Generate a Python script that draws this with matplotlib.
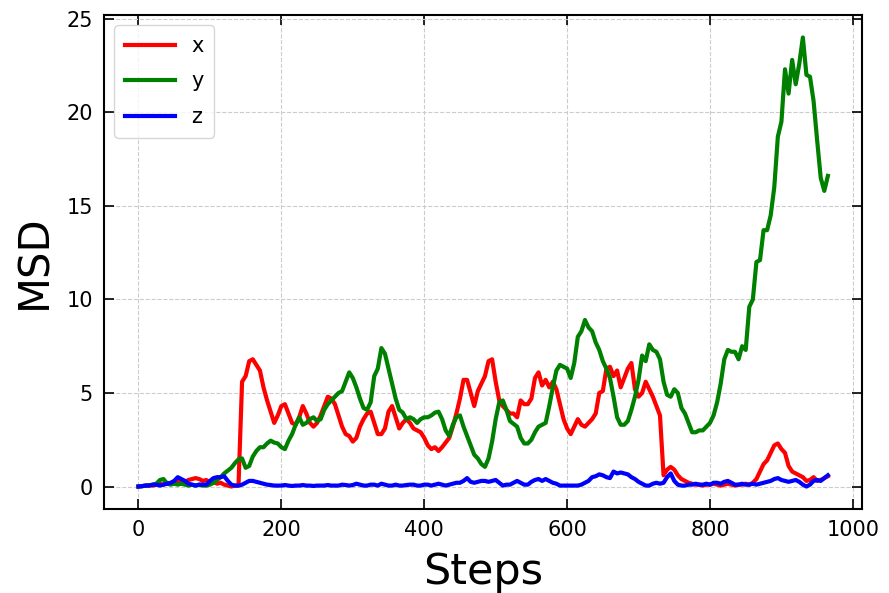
import numpy as np
import matplotlib
matplotlib.use("Agg")
import matplotlib.pyplot as plt

# Simulation steps (sampled every 5 steps)
steps = np.arange(0, 966, 5)

# Mean squared displacement along each axis
msd_x = [
    0.0, 0.02, 0.05, 0.08, 0.05, 0.1, 0.15, 0.1, 0.2, 0.15,
    0.25, 0.3, 0.2, 0.25, 0.35, 0.4, 0.45, 0.4, 0.3, 0.35,
    0.2, 0.25, 0.15, 0.2, 0.1, 0.05, 0.0, 0.05, 0.05, 5.6,
    5.9, 6.7, 6.8, 6.5, 6.2, 5.3, 4.6, 4.0, 3.4, 3.8,
    4.3, 4.4, 3.9, 3.4, 3.3, 3.7, 4.3, 3.9, 3.4, 3.2,
    3.4, 3.8, 4.3, 4.8, 4.7, 4.4, 3.8, 3.2, 2.8, 2.7,
    2.4, 2.6, 3.2, 3.6, 3.9, 4.0, 3.4, 2.8, 2.8, 3.1,
    4.0, 4.3, 3.7, 3.1, 3.4, 3.6, 3.4, 3.1, 3.0, 2.9,
    2.6, 2.2, 2.0, 2.1, 1.9, 2.1, 2.35, 2.6, 3.2, 3.9,
    4.7, 5.7, 5.7, 5.0, 4.3, 5.1, 5.5, 5.9, 6.7, 6.8,
    5.6, 4.6, 4.3, 4.1, 3.9, 3.9, 3.7, 4.6, 4.4, 4.4,
    4.7, 5.8, 6.1, 5.4, 5.7, 5.3, 5.6, 5.2, 4.4, 3.6,
    3.1, 2.8, 3.2, 3.6, 3.3, 3.2, 3.4, 3.6, 3.9, 5.0,
    5.1, 6.3, 6.4, 5.9, 6.2, 5.3, 5.8, 6.3, 6.6, 5.2,
    4.8, 5.0, 5.6, 5.2, 4.8, 4.3, 3.8, 0.6, 0.9, 1.05,
    0.9, 0.6, 0.4, 0.3, 0.2, 0.15, 0.1, 0.1, 0.05, 0.1,
    0.1, 0.15, 0.1, 0.05, 0.1, 0.15, 0.1, 0.05, 0.1, 0.1,
    0.15, 0.1, 0.2, 0.4, 0.8, 1.2, 1.4, 1.8, 2.2, 2.3,
    2.0, 1.8, 1.1, 0.8, 0.7, 0.6, 0.5, 0.3, 0.35, 0.5,
    0.3, 0.35, 0.45, 0.55,
]

msd_y = [
    0.0, 0.02, 0.05, 0.05, 0.1, 0.15, 0.35, 0.4, 0.15, 0.1,
    0.15, 0.1, 0.15, 0.1, 0.05, 0.1, 0.05, 0.1, 0.05, 0.05,
    0.1, 0.2, 0.35, 0.5, 0.7, 0.85, 1.0, 1.25, 1.45, 1.5,
    1.0, 1.1, 1.6, 1.9, 2.1, 2.1, 2.3, 2.45, 2.35, 2.3,
    2.1, 2.0, 2.45, 2.8, 3.3, 3.7, 3.3, 3.4, 3.6, 3.7,
    3.5, 3.6, 4.1, 4.4, 4.6, 4.8, 5.0, 5.1, 5.6, 6.1,
    5.8, 5.3, 4.7, 4.2, 4.1, 4.5, 5.9, 6.3, 7.4, 7.1,
    6.3, 5.5, 4.7, 4.1, 3.95, 3.6, 3.7, 3.6, 3.4, 3.6,
    3.7, 3.7, 3.8, 3.95, 4.0, 3.6, 3.0, 2.7, 3.3, 3.7,
    3.8, 3.2, 2.7, 2.2, 1.7, 1.5, 1.2, 1.05, 1.5, 2.4,
    3.6, 4.5, 4.6, 4.1, 3.5, 3.35, 3.2, 2.6, 2.3, 2.3,
    2.5, 2.9, 3.2, 3.3, 3.4, 4.3, 5.3, 6.2, 6.5, 6.4,
    6.3, 5.8, 6.6, 8.0, 8.3, 8.9, 8.5, 8.3, 7.7, 7.3,
    6.7, 6.3, 5.8, 4.8, 3.7, 3.3, 3.3, 3.5, 4.1, 4.8,
    5.7, 7.0, 6.7, 7.6, 7.3, 7.2, 6.8, 5.6, 4.9, 4.8,
    5.2, 5.0, 4.2, 3.9, 3.4, 2.9, 2.9, 3.0, 3.0, 3.2,
    3.4, 3.8, 4.5, 5.5, 6.8, 7.3, 7.2, 7.2, 6.8, 7.5,
    7.3, 9.6, 10.0, 12.0, 12.1, 13.7, 13.7, 14.5, 16.0, 18.7,
    19.5, 22.3, 21.0, 22.8, 21.5, 22.6, 24.0, 22.0, 21.9, 20.6,
    18.5, 16.5, 15.8, 16.6,
]

msd_z = [
    0.0, 0.02, 0.05, 0.05, 0.1, 0.1, 0.05, 0.1, 0.15, 0.2,
    0.3, 0.5, 0.4, 0.3, 0.15, 0.1, 0.05, 0.1, 0.1, 0.1,
    0.3, 0.45, 0.5, 0.5, 0.55, 0.3, 0.1, 0.05, 0.05, 0.1,
    0.2, 0.3, 0.3, 0.25, 0.2, 0.15, 0.1, 0.08, 0.05, 0.05,
    0.05, 0.08, 0.05, 0.03, 0.05, 0.05, 0.08, 0.05, 0.05, 0.03,
    0.05, 0.05, 0.05, 0.08, 0.05, 0.05, 0.05, 0.1, 0.08, 0.05,
    0.08, 0.15, 0.1, 0.05, 0.05, 0.1, 0.1, 0.05, 0.15, 0.1,
    0.05, 0.05, 0.1, 0.05, 0.05, 0.08, 0.1, 0.1, 0.05, 0.05,
    0.1, 0.1, 0.05, 0.1, 0.15, 0.1, 0.05, 0.1, 0.15, 0.2,
    0.2, 0.3, 0.45, 0.25, 0.2, 0.25, 0.3, 0.3, 0.25, 0.3,
    0.35, 0.2, 0.05, 0.1, 0.1, 0.2, 0.3, 0.2, 0.1, 0.1,
    0.25, 0.35, 0.4, 0.3, 0.4, 0.3, 0.2, 0.15, 0.05, 0.05,
    0.05, 0.05, 0.05, 0.05, 0.1, 0.2, 0.3, 0.5, 0.55, 0.65,
    0.6, 0.5, 0.45, 0.8, 0.7, 0.75, 0.7, 0.65, 0.5, 0.4,
    0.25, 0.15, 0.05, 0.05, 0.15, 0.2, 0.15, 0.2, 0.5, 0.7,
    0.3, 0.1, 0.05, 0.05, 0.1, 0.1, 0.15, 0.1, 0.1, 0.15,
    0.1, 0.2, 0.2, 0.15, 0.25, 0.3, 0.2, 0.1, 0.1, 0.15,
    0.1, 0.1, 0.15, 0.1, 0.15, 0.2, 0.25, 0.3, 0.4, 0.45,
    0.35, 0.3, 0.25, 0.3, 0.35, 0.25, 0.1, 0.0, 0.1, 0.3,
    0.35, 0.3, 0.45, 0.6,
]

series_labels = ["x", "y", "z"]
series_colors = ["red", "green", "blue"]

fig = plt.figure(figsize=(8.89, 5.93), dpi=100)
ax = fig.add_axes([0.117, 0.1417, 0.853, 0.833])

for vals, lab, col in zip([msd_x, msd_y, msd_z], series_labels, series_colors):
    ax.plot(steps, vals, color=col, lw=3.0, label=lab)

ax.set_xticks([0, 200, 400, 600, 800, 1000])
ax.set_yticks([0, 5, 10, 15, 20, 25])
ax.grid(True, linestyle="--", color="#cccccc", linewidth=0.8)
ax.set_axisbelow(True)

ax.tick_params(axis="both", which="major", direction="in", top=True, right=True,
               length=7, width=1.2, labelsize=15, pad=8)
for sp in ax.spines.values():
    sp.set_linewidth(1.5)

ax.set_xlabel("Steps", fontsize=31, labelpad=8)
ax.set_ylabel("MSD", fontsize=30, labelpad=8)

ax.legend(loc="upper left", fontsize=15, handlelength=2.4, framealpha=0.8,
          borderpad=0.5, labelspacing=0.75)

fig.savefig("out.png", dpi=100)
